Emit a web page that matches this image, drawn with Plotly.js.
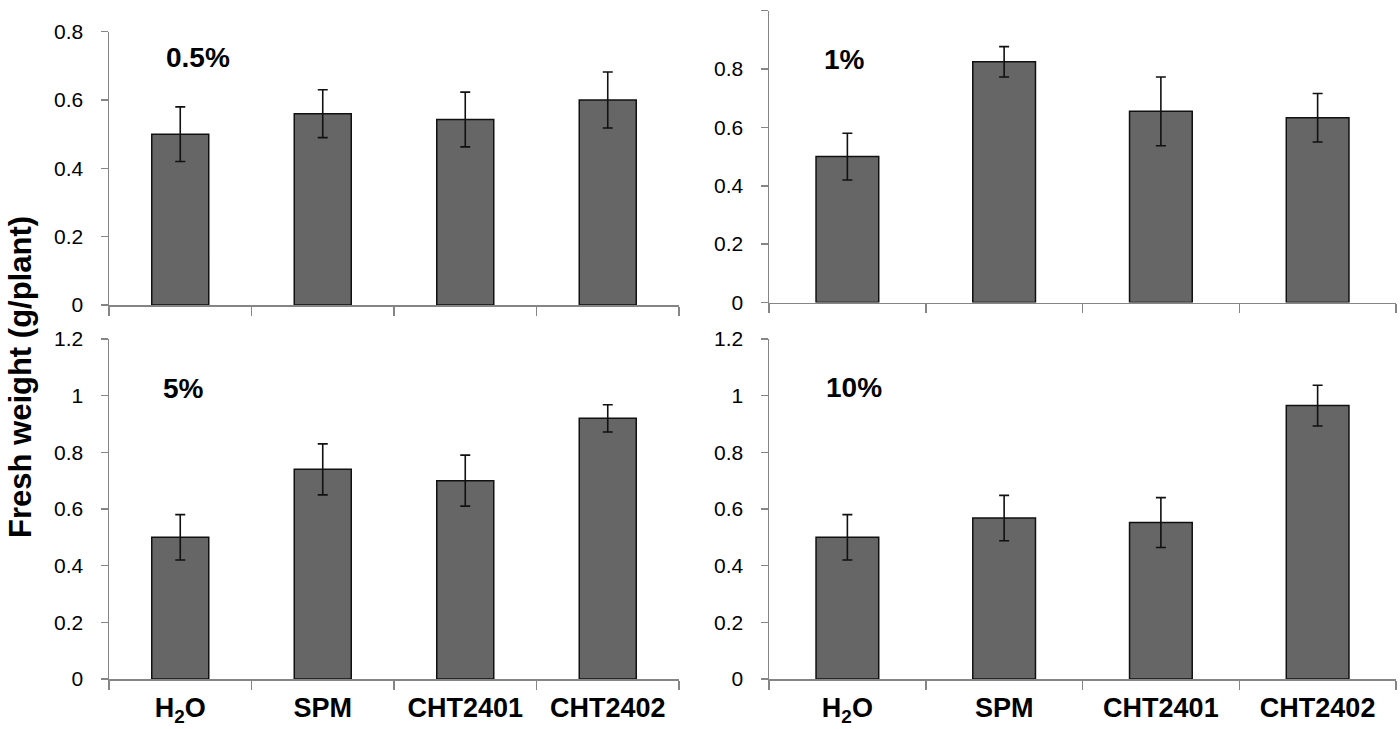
<!DOCTYPE html>
<html>
<head>
<meta charset="utf-8">
<script src="https://cdn.plot.ly/plotly-3.0.1.min.js"></script>
<style>
  html, body { margin: 0; padding: 0; background: #fff; }
  #chart { width: 1400px; height: 729px; }
</style>
</head>
<body>
<div id="chart"></div>
<script>
// ---- data ----
const categories = ['H<sub>2</sub>O', 'SPM', 'CHT2401', 'CHT2402'];
const panelLabels = ['0.5%', '1%', '5%', '10%'];
const mean05 = [0.50, 0.56, 0.543, 0.60];
const err05  = [0.08, 0.07, 0.08, 0.082];
const mean1  = [0.50, 0.825, 0.655, 0.633];
const err1   = [0.08, 0.052, 0.118, 0.083];
const mean5  = [0.50, 0.74, 0.70, 0.92];
const err5   = [0.08, 0.09, 0.09, 0.048];
const mean10 = [0.50, 0.568, 0.552, 0.965];
const err10  = [0.08, 0.08, 0.088, 0.072];
const yTitle = 'Fresh weight (g/plant)';

// ---- styling ----
const W = 1400, H = 729;
const axisColor = '#858585';
const FONT = 'Liberation Sans, Arial, Helvetica, sans-serif';

function barTrace(y, e, xa, ya) {
  return {
    type: 'bar', x: categories, y: y, xaxis: xa, yaxis: ya,
    marker: { color: '#666666', line: { color: '#111111', width: 1.5 } },
    error_y: { type: 'data', array: e, visible: true, color: '#111111', thickness: 1.6, width: 5 },
    hoverinfo: 'skip', showlegend: false
  };
}

const data = [
  barTrace(mean05, err05, 'x', 'y'),
  barTrace(mean1, err1, 'x2', 'y2'),
  barTrace(mean5, err5, 'x3', 'y3'),
  barTrace(mean10, err10, 'x4', 'y4')
];

function px2fx(p) { return p / W; }
function px2fy(p) { return 1 - p / H; }

function xAxis(l, r, anchor, labels) {
  return {
    domain: [px2fx(l), px2fx(r)], anchor: anchor,
    type: 'category', range: [-0.5, 3.5],
    showline: true, linecolor: axisColor, linewidth: 1.5,
    ticks: 'outside', tickson: 'boundaries', ticklen: 9, tickcolor: axisColor, tickwidth: 1.5,
    showgrid: false, zeroline: false,
    showticklabels: labels, ticklabelstandoff: 4,
    tickfont: { family: FONT, size: 27, color: '#000', weight: 'bold' }
  };
}
function yAxis(top, bottom, anchor, max) {
  return {
    domain: [px2fy(bottom), px2fy(top)], anchor: anchor,
    range: [0, max], tickmode: 'linear', tick0: 0, dtick: 0.2,
    showline: true, linecolor: axisColor, linewidth: 1.5,
    ticks: 'outside', ticklen: 7, tickcolor: axisColor, tickwidth: 1.5,
    showgrid: false, zeroline: false, ticklabelstandoff: 13,
    tickfont: { family: FONT, size: 21, color: '#000' }
  };
}

function panelLabel(text, xa, ya, xv, yv) {
  return {
    text: text, xref: xa, yref: ya, x: xv, y: yv,
    xanchor: 'left', yanchor: 'middle', showarrow: false,
    font: { family: FONT, size: 28, color: '#000', weight: 'bold' }
  };
}

const layout = {
  width: W, height: H,
  margin: { l: 0, r: 0, t: 0, b: 0 },
  paper_bgcolor: '#fff', plot_bgcolor: '#fff',
  bargap: 0.6,
  font: { family: FONT, color: '#000' },
  xaxis:  xAxis(109, 679, 'y', false),
  yaxis:  yAxis(31.7, 305, 'x', 0.8),
  xaxis2: xAxis(769, 1396, 'y2', false),
  yaxis2: yAxis(10.7, 302.5, 'x2', 1),
  xaxis3: xAxis(109, 679, 'y3', true),
  yaxis3: yAxis(339, 679, 'x3', 1.2),
  xaxis4: xAxis(769, 1396, 'y4', true),
  yaxis4: yAxis(339, 679, 'x4', 1.2),
  annotations: [
    panelLabel(panelLabels[0], 'x', 'y', -0.114, 0.7235),
    panelLabel(panelLabels[1], 'x2', 'y2', -0.162, 0.834),
    panelLabel(panelLabels[2], 'x3', 'y3', -0.135, 1.024),
    panelLabel(panelLabels[3], 'x4', 'y4', -0.149, 1.029),
    {
      text: yTitle, xref: 'paper', yref: 'paper', x: 20.5 / W, y: 1 - 377.5 / H,
      xanchor: 'center', yanchor: 'middle', textangle: -90, showarrow: false,
      font: { family: FONT, size: 31, color: '#000', weight: 'bold' }
    }
  ]
};

Plotly.newPlot('chart', data, layout, { displayModeBar: false, staticPlot: true });
</script>
</body>
</html>
